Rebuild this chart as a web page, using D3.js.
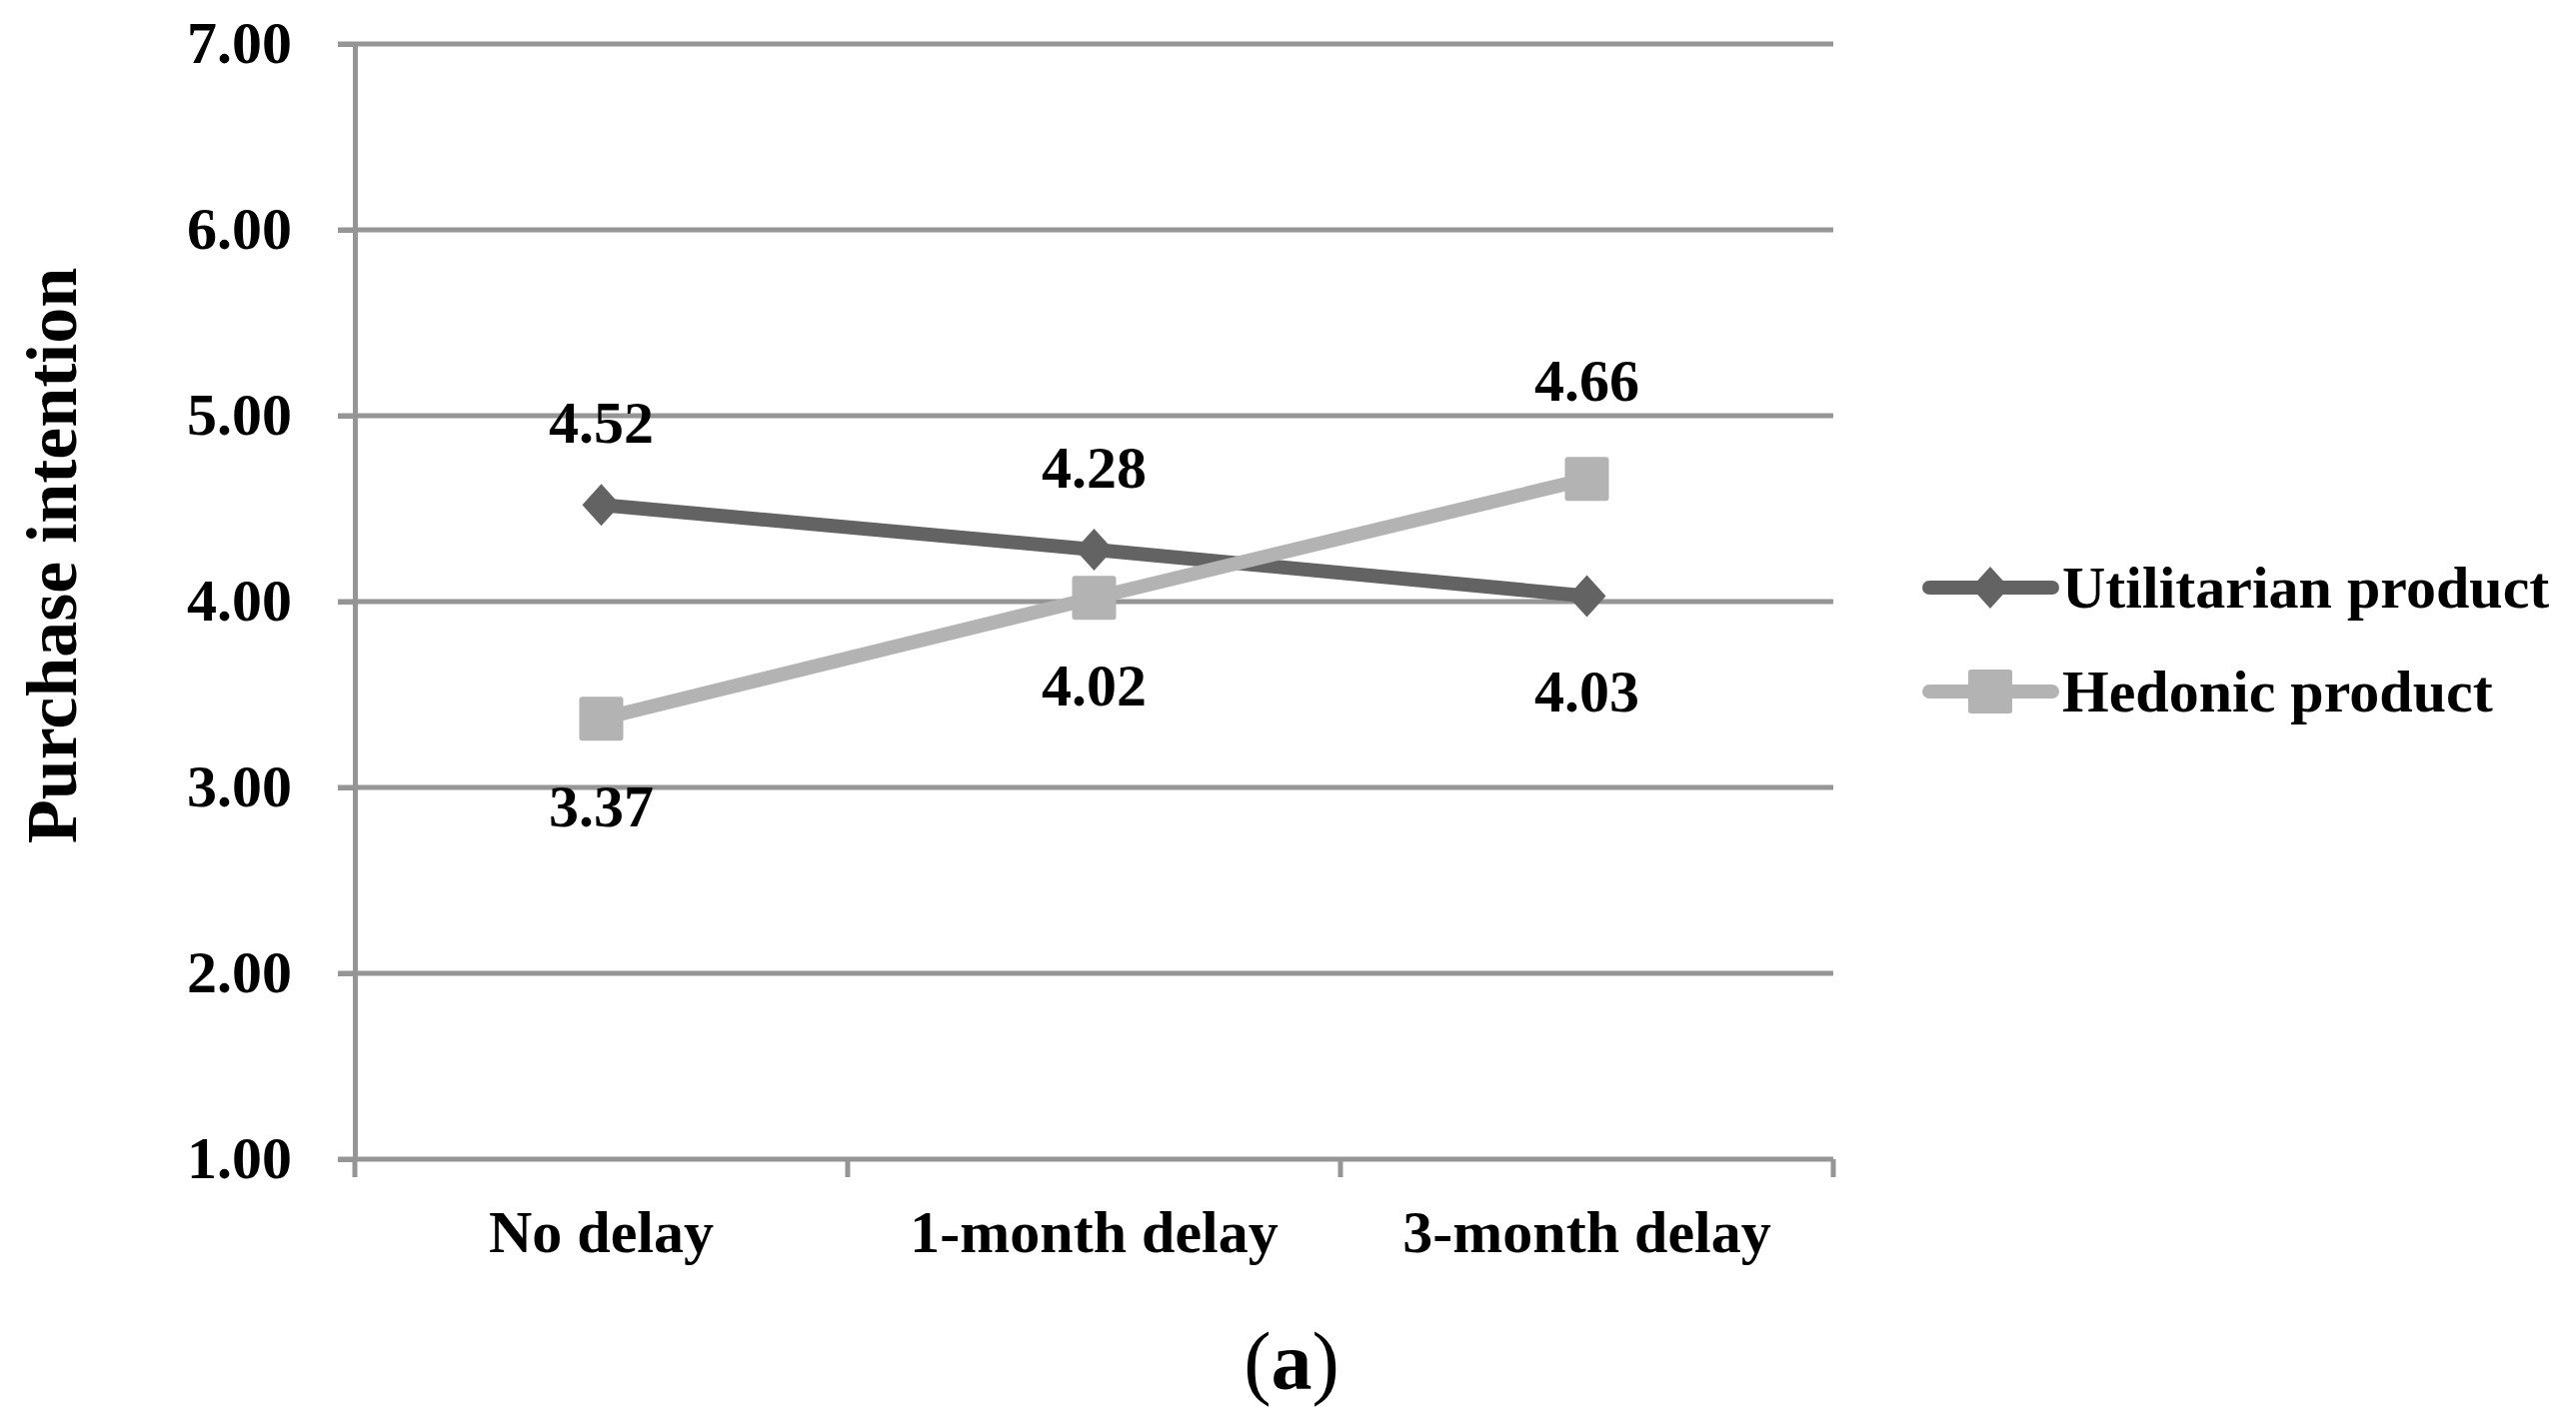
<!DOCTYPE html>
<html>
<head>
<meta charset="utf-8">
<script src="https://cdn.jsdelivr.net/npm/d3@7"></script>
<style>
  html, body { margin: 0; padding: 0; background: #ffffff; }
  svg { display: block; }
  text { font-family: "Liberation Serif", "Times New Roman", serif; fill: #000; }
</style>
</head>
<body>
<svg id="chart" width="2577" height="1420"></svg>
<script>
// ---- data ----
const categories = ["No delay", "1-month delay", "3-month delay"];
const seriesNames = ["Utilitarian product", "Hedonic product"];
const utilitarianValues = [4.52, 4.28, 4.03];
const hedonicValues = [3.37, 4.02, 4.66];
const yTickValues = [1, 2, 3, 4, 5, 6, 7];
const yAxisTitle = "Purchase intention";
const panelLabel = "a";
// label placement per point (above / below the marker)
const utilitarianLabelSide = ["above", "above", "below"];
const hedonicLabelSide = ["below", "below", "above"];

// ---- layout ----
const W = 2577, H = 1420;
const plot = { left: 355, right: 1834, top: 44, bottom: 1160 };
const fontPx = 60;
const gridColor = "#959595";
const svg = d3.select("#chart");

const x = d3.scaleBand().domain(categories).range([plot.left, plot.right]).paddingInner(0).paddingOuter(0);
const y = d3.scaleLinear().domain([1, 7]).range([plot.bottom, plot.top]);
const cx = c => x(c) + x.bandwidth() / 2;

// gridlines
svg.append("g").selectAll("line").data(yTickValues).join("line")
  .attr("x1", plot.left - 17).attr("x2", plot.right)
  .attr("y1", d => y(d)).attr("y2", d => y(d))
  .attr("stroke", gridColor).attr("stroke-width", 5);

// y axis
const yAxis = svg.append("g").attr("transform", `translate(${plot.left},0)`)
  .call(d3.axisLeft(y).tickValues(yTickValues).tickFormat(d3.format(".2f"))
        .tickSize(17).tickSizeOuter(0).tickPadding(46));
yAxis.select(".domain").attr("stroke", gridColor).attr("stroke-width", 5);
yAxis.selectAll(".tick line").attr("stroke", gridColor).attr("stroke-width", 5);
yAxis.selectAll(".tick text").attr("font-size", fontPx).attr("font-weight", "bold")
  .attr("font-family", "Liberation Serif").attr("dy", "0.3em");

// x axis boundary ticks
const boundaries = categories.map(c => x(c)).concat([x(categories[categories.length - 1]) + x.bandwidth()]);
svg.append("g").selectAll("line").data(boundaries).join("line")
  .attr("x1", d => d).attr("x2", d => d)
  .attr("y1", plot.bottom).attr("y2", plot.bottom + 18)
  .attr("stroke", gridColor).attr("stroke-width", 5);

// x axis labels
const xAxis = svg.append("g").attr("transform", `translate(0,${plot.bottom})`)
  .call(d3.axisBottom(x).tickSize(0).tickPadding(50));
xAxis.select(".domain").remove();
xAxis.selectAll(".tick text").attr("font-size", fontPx).attr("font-weight", "bold")
  .attr("font-family", "Liberation Serif");

// y axis title
svg.append("text")
  .attr("transform", `translate(76,556) rotate(-90)`)
  .attr("text-anchor", "middle")
  .attr("font-size", 72).attr("font-weight", "bold")
  .text(yAxisTitle);

// series
const series = [
  { name: seriesNames[0], values: utilitarianValues, sides: utilitarianLabelSide, color: "#636363", marker: "diamond", above: 62, below: 116 },
  { name: seriesNames[1], values: hedonicValues, sides: hedonicLabelSide, color: "#b3b3b3", marker: "square", above: 78, below: 108 }
];

const line = d3.line().x((d, i) => cx(categories[i])).y(d => y(d));

function drawMarker(g, type, px, py, color) {
  if (type === "diamond") {
    g.append("path")
      .attr("d", `M${px},${py - 21} L${px + 19},${py} L${px},${py + 21} L${px - 19},${py} Z`)
      .attr("fill", color);
  } else {
    g.append("rect")
      .attr("x", px - 22).attr("y", py - 22).attr("width", 44).attr("height", 44)
      .attr("rx", 3).attr("fill", color);
  }
}

series.forEach(s => {
  const g = svg.append("g");
  g.append("path").datum(s.values)
    .attr("d", line).attr("fill", "none")
    .attr("stroke", s.color).attr("stroke-width", 14)
    .attr("stroke-linejoin", "round");
  s.values.forEach((v, i) => drawMarker(g, s.marker, cx(categories[i]), y(v), s.color));
  g.selectAll("text.lbl").data(s.values).join("text")
    .attr("class", "lbl")
    .attr("x", (d, i) => cx(categories[i]))
    .attr("y", (d, i) => s.sides[i] === "above" ? y(d) - s.above : y(d) + s.below)
    .attr("text-anchor", "middle")
    .attr("font-size", fontPx).attr("font-weight", "bold")
    .text(d => d3.format(".2f")(d));
});

// legend
const legendRows = [588, 692];
series.forEach((s, i) => {
  const g = svg.append("g");
  const ly = legendRows[i];
  g.append("line").attr("x1", 1930).attr("x2", 2053).attr("y1", ly).attr("y2", ly)
    .attr("stroke", s.color).attr("stroke-width", 14).attr("stroke-linecap", "round");
  drawMarker(g, s.marker, 1991, ly, s.color);
  g.append("text").attr("x", 2063).attr("y", ly + 20)
    .attr("font-size", fontPx).attr("font-weight", "bold")
    .text(s.name);
});

// panel label
const pl = svg.append("text").attr("x", 1292).attr("y", 1390)
  .attr("text-anchor", "middle").attr("font-size", 82);
pl.append("tspan").text("(");
pl.append("tspan").attr("font-weight", "bold").text(panelLabel);
pl.append("tspan").text(")");
</script>
</body>
</html>
